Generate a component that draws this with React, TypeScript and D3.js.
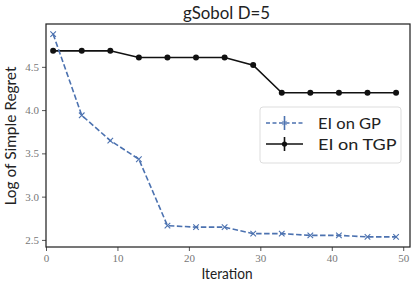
import * as d3 from "d3";
import { useEffect, useRef } from "react";

const iterations = [1, 5, 9, 13, 17, 21, 25, 29, 33, 37, 41, 45, 49];
const eiOnGP = [4.878, 3.94, 3.648, 3.432, 2.665, 2.647, 2.647, 2.572, 2.572, 2.552, 2.552, 2.535, 2.535];
const eiOnTGP = [4.685, 4.685, 4.685, 4.608, 4.608, 4.608, 4.608, 4.52, 4.2, 4.2, 4.2, 4.2, 4.2];
const xTicks = [0, 10, 20, 30, 40, 50];
const yTicks = [2.5, 3.0, 3.5, 4.0, 4.5];
const seriesNames = ["EI on GP", "EI on TGP"];

const BLUE = "#4c72b0";
const BLACK = "#111111";

export default function App(): JSX.Element {
  const svgRef = useRef<SVGSVGElement>(null);

  useEffect(() => {
    if (!svgRef.current) return;
    const width = 416;
    const height = 288;
    const margin = { top: 24, right: 6, bottom: 41, left: 46 };

    const svg = d3.select(svgRef.current);
    svg.selectAll("*").remove();
    svg.attr("width", width).attr("height", height);

    const all = [...eiOnGP, ...eiOnTGP];
    const lo = d3.min(all)!;
    const hi = d3.max(all)!;
    const pad = (hi - lo) * 0.05;

    const x = d3.scaleLinear().domain([0, 50.95]).range([margin.left, width - margin.right]);
    const y = d3
      .scaleLinear()
      .domain([lo - pad, hi + pad])
      .range([height - margin.bottom, margin.top]);

    const sans = "Lato, 'DejaVu Sans', sans-serif";
    const serif = "'Liberation Serif', serif";

    // x axis
    svg
      .append("g")
      .attr("transform", `translate(0,${height - margin.bottom})`)
      .call(d3.axisBottom(x).tickValues(xTicks).tickSize(4).tickPadding(3).tickFormat(d3.format("d")))
      .call((g) => g.select(".domain").remove())
      .call((g) => g.selectAll("line").attr("stroke", "#555"))
      .selectAll("text")
      .style("font-family", serif)
      .style("font-size", "11px")
      .style("fill", "#777");

    // y axis
    svg
      .append("g")
      .attr("transform", `translate(${margin.left},0)`)
      .call(d3.axisLeft(y).tickValues(yTicks).tickSize(4).tickPadding(3).tickFormat(d3.format(".1f")))
      .call((g) => g.select(".domain").remove())
      .call((g) => g.selectAll("line").attr("stroke", "#555"))
      .selectAll("text")
      .style("font-family", serif)
      .style("font-size", "11px")
      .style("fill", "#777");

    // frame
    svg
      .append("rect")
      .attr("x", margin.left)
      .attr("y", margin.top)
      .attr("width", width - margin.left - margin.right)
      .attr("height", height - margin.top - margin.bottom)
      .attr("fill", "none")
      .attr("stroke", "#262626")
      .attr("stroke-width", 1.25);

    const line = d3
      .line<number>()
      .x((_, i) => x(iterations[i]))
      .y((d) => y(d));

    // EI on TGP
    svg
      .append("path")
      .datum(eiOnTGP)
      .attr("d", line)
      .attr("fill", "none")
      .attr("stroke", BLACK)
      .attr("stroke-width", 1.6);
    svg
      .append("g")
      .selectAll("circle")
      .data(eiOnTGP)
      .join("circle")
      .attr("cx", (_, i) => x(iterations[i]))
      .attr("cy", (d) => y(d))
      .attr("r", 3)
      .attr("fill", BLACK);

    // EI on GP
    svg
      .append("path")
      .datum(eiOnGP)
      .attr("d", line)
      .attr("fill", "none")
      .attr("stroke", BLUE)
      .attr("stroke-width", 1.6)
      .attr("stroke-dasharray", "5.5,2.5");
    const cross = d3.symbol(d3.symbolX, 22);
    svg
      .append("g")
      .selectAll("path")
      .data(eiOnGP)
      .join("path")
      .attr("transform", (d, i) => `translate(${x(iterations[i])},${y(d)})`)
      .attr("d", cross)
      .attr("fill", "none")
      .attr("stroke", BLUE)
      .attr("stroke-width", 1.1);

    // title and labels
    svg
      .append("text")
      .attr("x", 226.5)
      .attr("y", 19)
      .attr("text-anchor", "middle")
      .attr("textLength", 87)
      .attr("lengthAdjust", "spacingAndGlyphs")
      .style("font-family", sans)
      .style("font-size", "17px")
      .style("fill", "#222")
      .text("gSobol D=5");

    svg
      .append("text")
      .attr("x", 227)
      .attr("y", 278.5)
      .attr("text-anchor", "middle")
      .attr("textLength", 51)
      .attr("lengthAdjust", "spacingAndGlyphs")
      .style("font-family", sans)
      .style("font-size", "14.5px")
      .style("fill", "#222")
      .text("Iteration");

    svg
      .append("text")
      .attr("transform", `translate(15.5,136) rotate(-90)`)
      .attr("text-anchor", "middle")
      .attr("textLength", 139)
      .attr("lengthAdjust", "spacingAndGlyphs")
      .style("font-family", sans)
      .style("font-size", "14.5px")
      .style("fill", "#222")
      .text("Log of Simple Regret");

    // legend
    const lg = svg.append("g").attr("transform", "translate(260,107)");
    lg.append("rect")
      .attr("width", 141)
      .attr("height", 56)
      .attr("rx", 3)
      .attr("fill", "white")
      .attr("fill-opacity", 0.85)
      .attr("stroke", "#dddddd")
      .attr("stroke-width", 1);

    const rows = [
      { name: seriesNames[0], color: BLUE, dash: "4,2.5", cy: 16, len: 63 },
      { name: seriesNames[1], color: BLACK, dash: null, cy: 37, len: 78.5 },
    ];
    rows.forEach((r, i) => {
      const row = lg.append("g").attr("transform", `translate(0,${r.cy})`);
      row
        .append("line")
        .attr("x1", 6)
        .attr("x2", 43)
        .attr("stroke", r.color)
        .attr("stroke-width", 1.6)
        .attr("stroke-dasharray", r.dash);
      row
        .append("line")
        .attr("x1", 24.5)
        .attr("x2", 24.5)
        .attr("y1", -7)
        .attr("y2", 7)
        .attr("stroke", r.color)
        .attr("stroke-width", 1.6);
      if (i === 0) {
        row
          .append("path")
          .attr("transform", "translate(24.5,0)")
          .attr("d", d3.symbol(d3.symbolX, 14)())
          .attr("fill", "none")
          .attr("stroke", r.color)
          .attr("stroke-width", 1);
      } else {
        row.append("circle").attr("cx", 24.5).attr("r", 2.6).attr("fill", r.color);
      }
      row
        .append("text")
        .attr("x", 58)
        .attr("dy", "0.35em")
        .attr("textLength", r.len)
        .attr("lengthAdjust", "spacingAndGlyphs")
        .style("font-family", sans)
        .style("font-size", "16px")
        .style("fill", "#222")
        .text(r.name);
    });
  }, []);

  return (
    <div style={{ position: "absolute", left: 0, top: 0, background: "white" }}>
      <svg ref={svgRef} style={{ display: "block" }} />
    </div>
  );
}
